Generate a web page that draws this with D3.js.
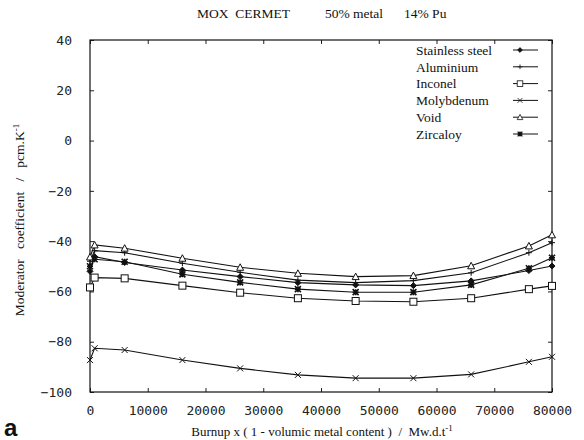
<!DOCTYPE html>
<html lang="en">
<head>
<meta charset="utf-8">
<title>MOX CERMET moderator coefficient</title>
<script src="https://cdn.jsdelivr.net/npm/d3@7"></script>
<style>
  body { margin: 0; background: #fff; }
  .serif { font-family: "Liberation Serif", "Times New Roman", serif; fill: #111; white-space: pre; }
  .axis text { font-family: "DejaVu Sans Mono", monospace; font-size: 13px; fill: #222; }
  .axis path { display: none; }
  .axis line { stroke: #222; }
</style>
</head>
<body>
<div id="chart"></div>
<script>

// data
const burnup = [0, 800, 6000, 16000, 26000, 36000, 46000, 56000, 66000, 76000, 80000];
const stainless  = [-52.0, -46.2, -48.5, -51.5, -54.1, -56.5, -57.4, -57.7, -55.8, -51.7, -49.9];
const aluminium  = [-48.0, -43.8, -44.6, -48.8, -52.4, -55.5, -56.5, -55.7, -52.6, -44.6, -40.6];
const inconel    = [-58.4, -54.5, -54.8, -57.7, -60.5, -62.7, -63.8, -64.1, -62.7, -59.1, -57.8];
const molybdenum = [-87.3, -82.6, -83.3, -87.3, -90.6, -93.2, -94.5, -94.5, -93.0, -88.0, -86.0];
const voidCase   = [-46.3, -41.5, -42.8, -46.8, -50.4, -52.8, -54.1, -53.7, -49.8, -41.9, -37.5];
const zircaloy   = [-50.0, -47.2, -48.2, -53.2, -56.4, -59.1, -60.3, -60.3, -57.4, -50.8, -46.6];

const seriesNames = ["Stainless steel", "Aluminium", "Inconel", "Molybdenum", "Void", "Zircaloy"];
const seriesValues = [stainless, aluminium, inconel, molybdenum, voidCase, zircaloy];
const seriesMarkers = ["diamond", "plus", "square", "cross", "triangle", "asterisk"];

const xTicks = [0, 10000, 20000, 30000, 40000, 50000, 60000, 70000, 80000];
const yTicks = [-100, -80, -60, -40, -20, 0, 20, 40];

const W = 584, H = 440;
const mLeft = 90, mRight = 552, mTop = 40, mBottom = 392;

const svg = d3.select("#chart").append("svg")
  .attr("width", W).attr("height", H)
  .attr("viewBox", [0, 0, W, H]);

const x = d3.scaleLinear().domain([0, 80000]).range([mLeft, mRight]);
const y = d3.scaleLinear().domain([-100, 40]).range([mBottom, mTop]);

// marker shapes
function marker(g, type) {
  const s = 3;
  if (type === "diamond") {
    g.append("path").attr("d", `M0,${-s}L${s},0L0,${s}L${-s},0Z`).attr("fill", "#111");
  } else if (type === "plus") {
    g.append("path").attr("d", `M${-s},0H${s}M0,${-s}V${s}`);
  } else if (type === "square") {
    g.append("rect").attr("x", -3.5).attr("y", -3.5).attr("width", 7).attr("height", 7).attr("fill", "#fff");
  } else if (type === "cross") {
    g.append("path").attr("d", `M${-s},${-s}L${s},${s}M${-s},${s}L${s},${-s}`);
  } else if (type === "triangle") {
    g.append("path").attr("d", `M0,${-s - 0.5}L${s + 0.5},${s}L${-s - 0.5},${s}Z`).attr("fill", "#fff");
  } else if (type === "asterisk") {
    g.append("path").attr("d", `M${-s},${-s}L${s},${s}M${-s},${s}L${s},${-s}M${-s},0H${s}M0,${-s}V${s}`)
      .attr("stroke-width", 1.6);
  }
}

// axes: ticks inside on all four sides
svg.append("g").attr("class", "axis")
  .attr("transform", `translate(0,${mBottom})`)
  .call(d3.axisBottom(x).tickValues(xTicks).tickFormat(d3.format("d")).tickSize(-4).tickPadding(14));
svg.append("g").attr("class", "axis")
  .attr("transform", `translate(0,${mTop})`)
  .call(d3.axisTop(x).tickValues(xTicks).tickFormat("").tickSize(-4));
svg.append("g").attr("class", "axis")
  .attr("transform", `translate(${mLeft},0)`)
  .call(d3.axisLeft(y).tickValues(yTicks).tickFormat(d3.format("d")).tickSize(-4).tickPadding(18));
svg.append("g").attr("class", "axis")
  .attr("transform", `translate(${mRight},0)`)
  .call(d3.axisRight(y).tickValues(yTicks).tickFormat("").tickSize(-4));

// frame
svg.append("rect")
  .attr("x", mLeft).attr("y", mTop)
  .attr("width", mRight - mLeft).attr("height", mBottom - mTop)
  .attr("fill", "none").attr("stroke", "#111").attr("stroke-width", 1.2);

// lines + markers
const line = d3.line().x((d, i) => x(burnup[i])).y(d => y(d));

seriesValues.forEach((vals, k) => {
  svg.append("path")
    .attr("d", line(vals))
    .attr("fill", "none").attr("stroke", "#111").attr("stroke-width", 1.1);
  vals.forEach((v, i) => {
    const g = svg.append("g")
      .attr("transform", `translate(${x(burnup[i])},${y(v)})`)
      .attr("stroke", "#111").attr("stroke-width", 1).attr("fill", "none");
    marker(g, seriesMarkers[k]);
  });
});

// legend
const legend = svg.append("g");
seriesNames.forEach((name, k) => {
  const ly = 50 + k * 16.8;
  legend.append("text").attr("class", "serif")
    .attr("x", 416).attr("y", ly).attr("dy", "0.35em")
    .style("font-size", "13.5px").text(name);
  legend.append("line")
    .attr("x1", 513).attr("x2", 538).attr("y1", ly).attr("y2", ly)
    .attr("stroke", "#111").attr("stroke-width", 1);
  const g = legend.append("g")
    .attr("transform", `translate(520,${ly}) scale(0.8)`)
    .attr("stroke", "#111").attr("stroke-width", 1).attr("fill", "none");
  marker(g, seriesMarkers[k]);
});

// title
const title = svg.append("text").attr("class", "serif").attr("y", 18).style("font-size", "13.5px");
title.append("tspan").attr("x", 197).text("MOX  CERMET");
title.append("tspan").attr("x", 325).text("50% metal");
title.append("tspan").attr("x", 404).text("14% Pu");

// axis titles
const yt = svg.append("text").attr("class", "serif")
  .attr("transform", "translate(24,220) rotate(-90)")
  .attr("text-anchor", "middle").style("font-size", "13.5px");
yt.append("tspan").text("Moderator   coefficient   /   pcm.K");
yt.append("tspan").attr("dy", -5).style("font-size", "9px").text("-1");

const xt = svg.append("text").attr("class", "serif")
  .attr("x", 322).attr("y", 436)
  .attr("text-anchor", "middle").style("font-size", "13px");
xt.append("tspan").text("Burnup x ( 1 - volumic metal content )  /  Mw.d.t");
xt.append("tspan").attr("dy", -5).style("font-size", "9px").text("-1");

svg.append("text")
  .attr("x", 4).attr("y", 436)
  .style("font-family", "Liberation Sans, Arial, sans-serif")
  .style("font-weight", "bold").style("font-size", "24px")
  .attr("fill", "#111").text("a");

</script>
</body>
</html>
